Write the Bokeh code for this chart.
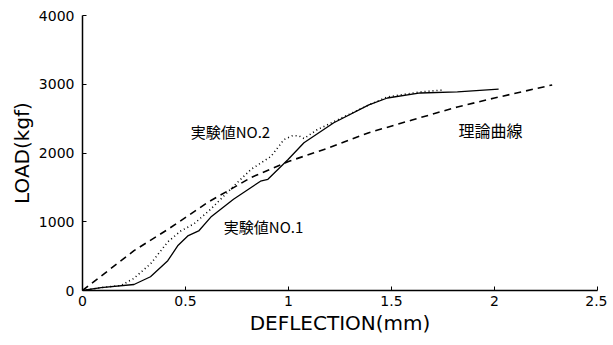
from bokeh.plotting import figure
from bokeh.models import Range1d, FixedTicker, ColumnDataSource
from bokeh.core.properties import value
from bokeh.embed import file_html
from bokeh.resources import INLINE

# Theoretical curve (理論曲線)
theory_x = [0.0, 0.25, 0.42, 0.61, 0.82, 1.0, 1.2, 1.39, 1.6, 1.82, 2.0, 2.28]
theory_y = [0, 580, 900, 1285, 1646, 1877, 2080, 2296, 2480, 2670, 2800, 2990]

# Experiment No.1 (solid)
exp1_x = [0.0, 0.09, 0.25, 0.33, 0.414, 0.462, 0.511, 0.564, 0.623, 0.733, 0.864, 0.9, 0.998, 1.075, 1.22, 1.39, 1.48, 1.64, 1.82, 2.02]
exp1_y = [0, 43, 87, 200, 433, 650, 794, 866, 1068, 1328, 1590, 1617, 1906, 2150, 2440, 2700, 2800, 2873, 2890, 2930]

# Experiment No.2 (dotted)
exp2_x = [0.0, 0.1, 0.185, 0.248, 0.331, 0.414, 0.477, 0.54, 0.623, 0.733, 0.818, 0.915, 0.978, 1.02, 1.05, 1.075, 1.14, 1.27, 1.39, 1.48, 1.64, 1.75]
exp2_y = [0, 45, 72, 173, 390, 707, 866, 967, 1184, 1516, 1762, 1950, 2195, 2253, 2250, 2210, 2340, 2527, 2700, 2816, 2888, 2917]

x_ticks = [0, 0.5, 1, 1.5, 2, 2.5]
y_ticks = [0, 1000, 2000, 3000, 4000]

label_x = [0.525, 0.686, 1.825]
label_y = [2310, 924, 2340]
label_text = ["実験値NO.2", "実験値NO.1", "理論曲線"]

p = figure(width=607, height=337, output_backend="svg", toolbar_location=None,
           x_range=Range1d(0, 2.5), y_range=Range1d(0, 4000),
           min_border_left=82, min_border_right=10, min_border_top=15, min_border_bottom=45)
p.outline_line_color = None
p.xgrid.visible = False
p.ygrid.visible = False
p.background_fill_color = "white"
p.border_fill_color = "white"

p.line(theory_x, theory_y, line_color="black", line_width=1.6, line_dash="7 5")
p.line(exp1_x, exp1_y, line_color="black", line_width=1.3)
p.line(exp2_x, exp2_y, line_color="black", line_width=1.6, line_dash="1 3")

src = ColumnDataSource(dict(x=label_x[:2], y=label_y[:2], t=label_text[:2]))
p.text(x="x", y="y", text="t", source=src, text_font=value("Noto Sans CJK JP"),
       text_font_size="15px", text_baseline="middle", text_align="left", text_color="black")
p.text(x=label_x[2:], y=label_y[2:], text=label_text[2:], text_font=value("Noto Sans CJK JP"),
       text_font_size="16px", text_baseline="middle", text_align="left", text_color="black")

for ax in (p.xaxis[0], p.yaxis[0]):
    ax.axis_line_width = 1.5
    ax.axis_line_color = "black"
    ax.major_tick_in = 4
    ax.major_tick_out = 0
    ax.minor_tick_line_color = None
    ax.major_label_text_font = "DejaVu Sans"
    ax.major_label_text_font_size = "14px"
    ax.major_label_text_color = "black"
    ax.axis_label_text_font = "DejaVu Sans"
    ax.axis_label_text_font_style = "normal"
    ax.axis_label_text_font_size = "20px"
    ax.axis_label_text_color = "black"

p.xaxis.ticker = FixedTicker(ticks=x_ticks)
p.yaxis.ticker = FixedTicker(ticks=y_ticks)
p.xaxis.major_label_overrides = {0: "0", 0.5: "0.5", 1: "1", 1.5: "1.5", 2: "2", 2.5: "2.5"}
p.xaxis.axis_label = "DEFLECTION(mm)"
p.yaxis.axis_label = "LOAD(kgf)"
p.xaxis.major_label_standoff = 5
p.yaxis.major_label_standoff = 8
p.xaxis.axis_label_standoff = 2
p.yaxis.axis_label_standoff = 2

open("out.html", "w").write(file_html(p, INLINE))
